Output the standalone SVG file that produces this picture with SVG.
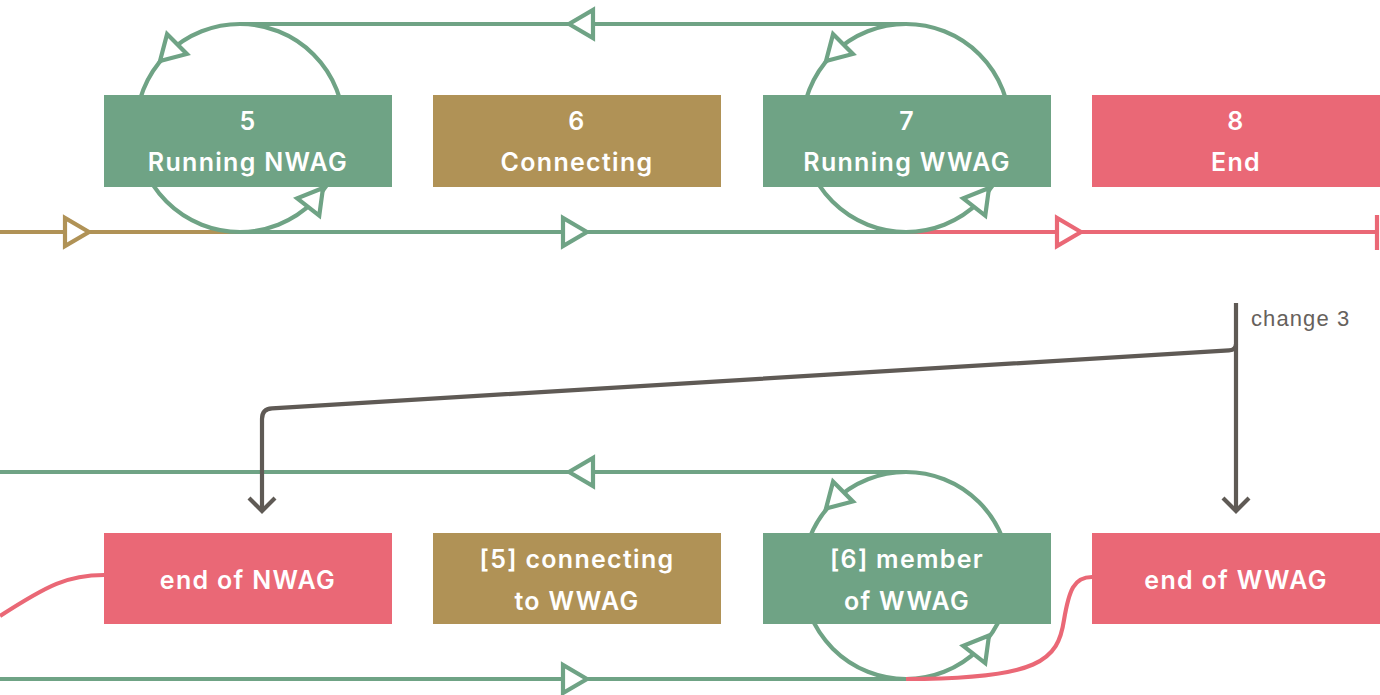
<svg xmlns="http://www.w3.org/2000/svg" xmlns:xlink="http://www.w3.org/1999/xlink" width="1380" height="695" viewBox="0 0 1380 695">
<style>
.g{stroke:#6fa385}.o{stroke:#b09256}.p{stroke:#ea6876}.k{stroke:#5f5a55}
.ln{fill:none;stroke-width:4.2}
.ar{fill:#fff;stroke-width:4.2;stroke-linejoin:miter}
.chev{fill:none;stroke:#5f5a55;stroke-width:4.2;stroke-linejoin:miter}
.bg{fill:#6fa385}.bo{fill:#b09256}.bp{fill:#ea6876}
.t{fill:#fff;font-family:Inter,"Liberation Sans",sans-serif;font-weight:600;font-size:25px;letter-spacing:1.3px;text-anchor:middle}
.lbl{fill:#66615c;font-family:"Liberation Sans",Arial,sans-serif;font-size:22px;letter-spacing:1.1px}
</style>
<defs>
<path id="tri" d="M0,0 L-24,-14 L-24,14 Z"/>
</defs>
<g id="connectors">
<path class="ln o" d="M0,232 H240"/>
<path class="ln g" d="M240,232 H906"/>
<path class="ln p" d="M906,232 H1377"/>
<path class="ln p" d="M1377,215 V250"/>
<path class="ln g" d="M240,24 H906"/>
<circle class="ln g" cx="240" cy="128" r="104"/>
<circle class="ln g" cx="906" cy="128" r="104"/>
<use href="#tri" class="ar o" transform="translate(89,232)"/>
<use href="#tri" class="ar g" transform="translate(587,232)"/>
<use href="#tri" class="ar p" transform="translate(1081,232)"/>
<use href="#tri" class="ar g" transform="translate(569,24) rotate(180)"/>
<use href="#tri" class="ar g" transform="translate(160,61) rotate(135)"/>
<use href="#tri" class="ar g" transform="translate(323,188) rotate(-52)"/>
<use href="#tri" class="ar g" transform="translate(826,61) rotate(135)"/>
<use href="#tri" class="ar g" transform="translate(989,188) rotate(-52)"/>
<path class="ln g" d="M0,472 H906"/>
<path class="ln g" d="M0,679 H906"/>
<circle class="ln g" cx="906" cy="575.5" r="103.5"/>
<path class="ln p" d="M906,679 C1040,679 1058,660 1064,620 C1069,590 1074,577 1092,577"/>
<path class="ln p" d="M104,575 C68,575 48,585 0,616"/>
<use href="#tri" class="ar g" transform="translate(569,472) rotate(180)"/>
<use href="#tri" class="ar g" transform="translate(587,679)"/>
<use href="#tri" class="ar g" transform="translate(826,508.5) rotate(135)"/>
<use href="#tri" class="ar g" transform="translate(989,635.5) rotate(-52)"/>
<path class="ln k" d="M1236,303 V511"/>
<path class="ln k" d="M1236,344 Q1236,350 1229,350.4 L272,408.4 Q262,409 262,419 V511"/>
<path class="chev" d="M1223,498 L1236,511 L1249,498"/>
<path class="chev" d="M249,498 L262,511 L275,498"/>
<text class="lbl" x="1251" y="326">change 3</text>
</g>
<g id="n5"><rect class="bg" x="104" y="95" width="288" height="92"/><text class="t" x="248" y="130">5</text><text class="t" x="248" y="171">Running NWAG</text></g>
<g id="n6"><rect class="bo" x="433" y="95" width="288" height="92"/><text class="t" x="577" y="130">6</text><text class="t" x="577" y="171">Connecting</text></g>
<g id="n7"><rect class="bg" x="763" y="95" width="288" height="92"/><text class="t" x="907" y="130">7</text><text class="t" x="907" y="171">Running WWAG</text></g>
<g id="n8"><rect class="bp" x="1092" y="95" width="288" height="92"/><text class="t" x="1236" y="130">8</text><text class="t" x="1236" y="171">End</text></g>
<g id="b1"><rect class="bp" x="104" y="533" width="288" height="91"/><text class="t" x="248" y="589">end of NWAG</text></g>
<g id="b2"><rect class="bo" x="433" y="533" width="288" height="91"/><text class="t" x="577" y="568">[5] connecting</text><text class="t" x="577" y="610">to WWAG</text></g>
<g id="b3"><rect class="bg" x="763" y="533" width="288" height="91"/><text class="t" x="907" y="568">[6] member</text><text class="t" x="907" y="610">of WWAG</text></g>
<g id="b4"><rect class="bp" x="1092" y="533" width="288" height="91"/><text class="t" x="1236" y="589">end of WWAG</text></g>
</svg>
